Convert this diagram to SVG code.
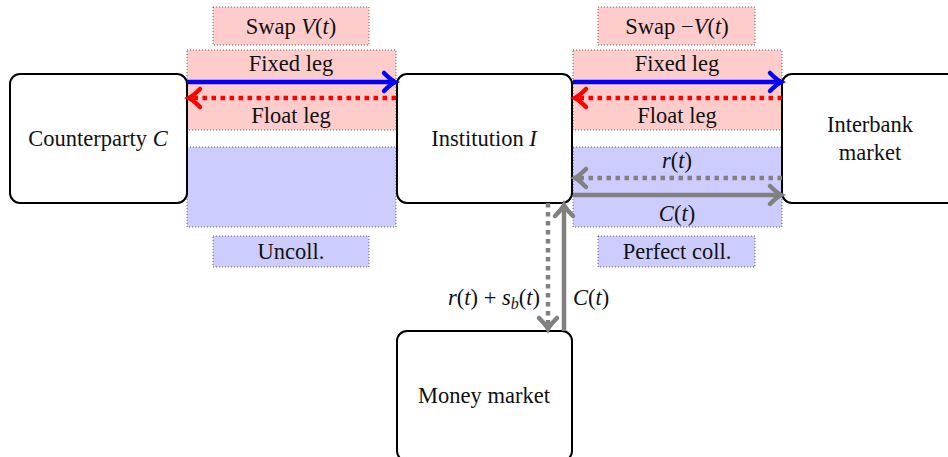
<svg xmlns="http://www.w3.org/2000/svg" width="948" height="457" viewBox="0 0 948 457">
<style>
text{font-family:'Liberation Serif','Times New Roman',Tinos,'DejaVu Serif','Noto Serif',serif;font-size:22.5px;fill:#111;text-anchor:middle}
text.e{text-anchor:end}
text.s{text-anchor:start}
.it{font-style:italic}
.node{fill:#fff;stroke:#000;stroke-width:2}
.pink{fill:#ffcccc;stroke:#444;stroke-width:0.8;stroke-dasharray:1 2}
.blue{fill:#ccccff;stroke:#444;stroke-width:0.8;stroke-dasharray:1 2}
.ln{fill:none;stroke-width:4.5}
.dot{stroke-dasharray:4.5 4.5}
</style>
<defs>
<marker id="hb" markerUnits="userSpaceOnUse" orient="auto" markerWidth="30" markerHeight="30" refX="0" refY="0" viewBox="-15 -15 30 30" overflow="visible"><path d="M-11,-9 Q-4,-2 0,0 Q-4,2 -11,9" fill="none" stroke="#0000ff" stroke-width="4.5" stroke-linecap="round" stroke-dasharray="none"/></marker>
<marker id="hr" markerUnits="userSpaceOnUse" orient="auto" markerWidth="30" markerHeight="30" refX="0" refY="0" viewBox="-15 -15 30 30" overflow="visible"><path d="M-11,-9 Q-4,-2 0,0 Q-4,2 -11,9" fill="none" stroke="#ff0000" stroke-width="4.5" stroke-linecap="round" stroke-dasharray="none"/></marker>
<marker id="hg" markerUnits="userSpaceOnUse" orient="auto" markerWidth="30" markerHeight="30" refX="0" refY="0" viewBox="-15 -15 30 30" overflow="visible"><path d="M-11,-9 Q-4,-2 0,0 Q-4,2 -11,9" fill="none" stroke="#808080" stroke-width="4.5" stroke-linecap="round" stroke-dasharray="none"/></marker>
</defs>
<g id="regions">
<rect class="pink" x="213" y="7" width="156" height="38"/>
<rect class="pink" x="187" y="50" width="209" height="80"/>
<rect class="blue" x="187" y="147" width="209" height="80"/>
<rect class="blue" x="213" y="236" width="156" height="31"/>
<rect class="pink" x="598" y="7" width="157" height="38"/>
<rect class="pink" x="573" y="50" width="209" height="80"/>
<rect class="blue" x="573" y="147" width="209" height="80"/>
<rect class="blue" x="598" y="236" width="157" height="31"/>
<text x="291" y="34">Swap <tspan class="it">V</tspan>(<tspan class="it">t</tspan>)</text>
<text x="291" y="71">Fixed leg</text>
<text x="291" y="123">Float leg</text>
<text x="291" y="259">Uncoll.</text>
<text x="677" y="34">Swap −<tspan class="it">V</tspan>(<tspan class="it">t</tspan>)</text>
<text x="677" y="71">Fixed leg</text>
<text x="677" y="123">Float leg</text>
<text x="677" y="168"><tspan class="it">r</tspan>(<tspan class="it">t</tspan>)</text>
<text x="677" y="221"><tspan class="it">C</tspan>(<tspan class="it">t</tspan>)</text>
<text x="677" y="259">Perfect coll.</text>
</g>
<g id="node-counterparty"><rect class="node" x="10" y="74" width="177" height="129" rx="10"/><text x="98" y="146">Counterparty <tspan class="it">C</tspan></text></g>
<g id="node-institution"><rect class="node" x="397" y="74" width="175" height="129" rx="10"/><text x="484" y="146">Institution <tspan class="it">I</tspan></text></g>
<g id="node-interbank"><rect class="node" x="782" y="74" width="178" height="129" rx="10"/><text x="870" y="132">Interbank</text><text x="870" y="160">market</text></g>
<g id="node-money"><rect class="node" x="397" y="331" width="175" height="130" rx="10"/><text x="484" y="403">Money market</text></g>
<g id="connectors">
<line class="ln" stroke="#0000ff" x1="187" y1="82" x2="395" y2="82" marker-end="url(#hb)"/>
<line class="ln dot" stroke="#ff0000" x1="396" y1="98" x2="189" y2="98" marker-end="url(#hr)"/>
<line class="ln" stroke="#0000ff" x1="573" y1="82" x2="781" y2="82" marker-end="url(#hb)"/>
<line class="ln dot" stroke="#ff0000" x1="782" y1="98" x2="575" y2="98" marker-end="url(#hr)"/>
<line class="ln dot" stroke="#808080" x1="782" y1="178" x2="575" y2="178" marker-end="url(#hg)"/>
<line class="ln" stroke="#808080" x1="573" y1="195" x2="781" y2="195" marker-end="url(#hg)"/>
<line class="ln dot" stroke="#808080" x1="548" y1="203" x2="548" y2="329" marker-end="url(#hg)"/>
<line class="ln" stroke="#808080" x1="564" y1="331" x2="564" y2="205" marker-end="url(#hg)"/>
<text class="e" x="540" y="305"><tspan class="it">r</tspan>(<tspan class="it">t</tspan>) + <tspan class="it">s</tspan><tspan class="it" font-size="16" dy="4">b</tspan><tspan dy="-4">(</tspan><tspan class="it">t</tspan>)</text>
<text class="s" x="573" y="305"><tspan class="it">C</tspan>(<tspan class="it">t</tspan>)</text>
</g>
</svg>
